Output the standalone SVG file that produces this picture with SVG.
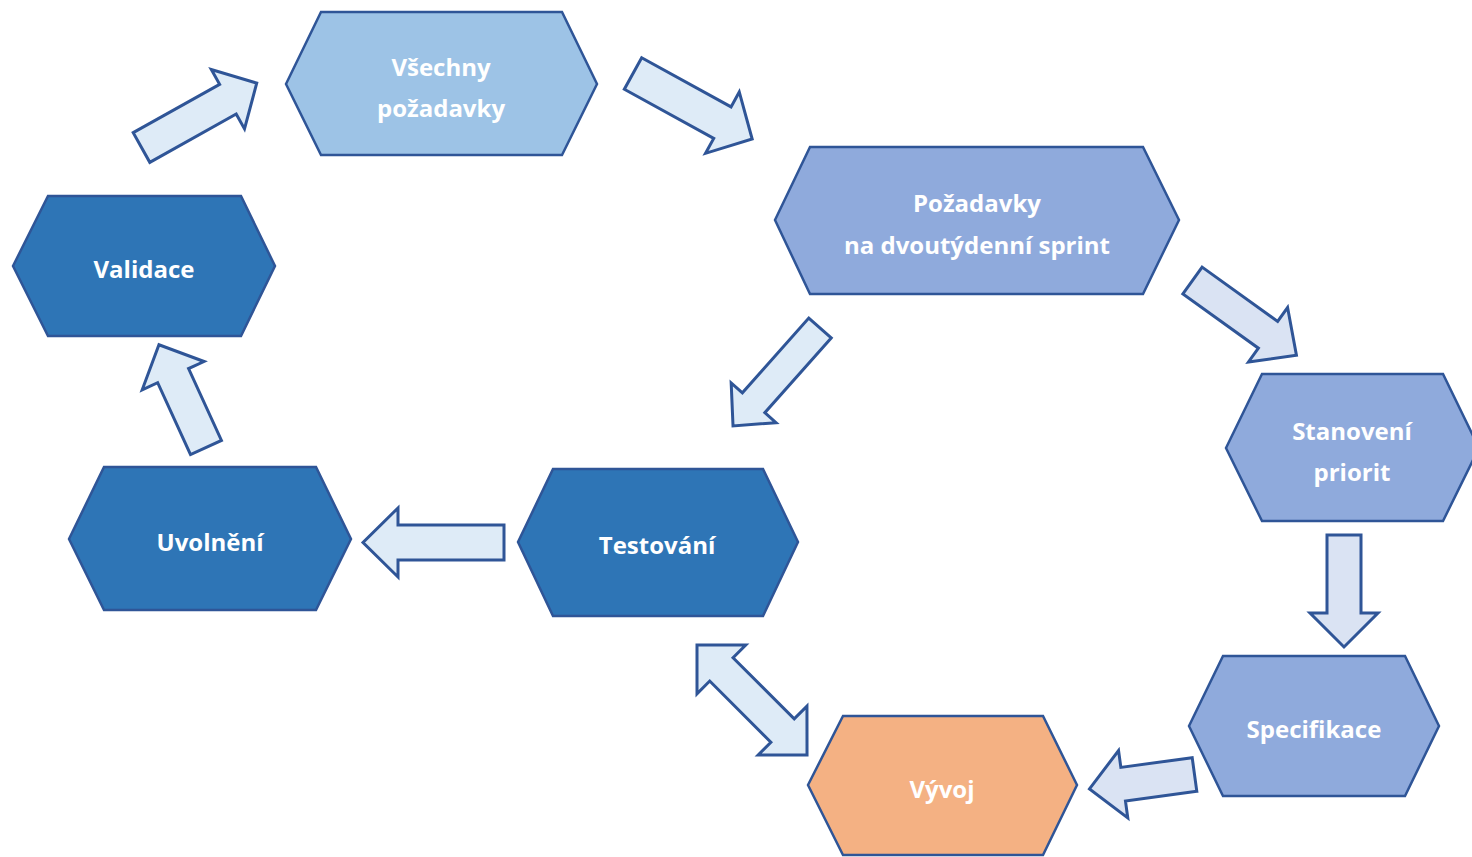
<svg xmlns="http://www.w3.org/2000/svg" width="1472" height="857" viewBox="0 0 1472 857">
  <style>
    .hex { stroke: #2F5597; stroke-width: 2.5; stroke-linejoin: miter; }
    .c1 { fill: #9DC3E6; }
    .c2 { fill: #8FAADC; }
    .c3 { fill: #2E75B6; }
    .c4 { fill: #F4B183; }
    .arr { fill: #DEEBF7; stroke: #2F5597; stroke-width: 3; stroke-linejoin: miter; }
    .arr2 { fill: #DAE3F3; stroke: #2F5597; stroke-width: 3; stroke-linejoin: miter; }
    .lbl { font-family: "Open Sans", "Liberation Sans", sans-serif; font-weight: bold; font-size: 24px; fill: #FFFFFF; text-anchor: middle; }
  </style>
  <rect width="1472" height="857" fill="#FFFFFF"/>

  <!-- block arrows between the stages -->
  <g id="connectors">
    <polygon class="arr" transform="translate(141.5,147.5) rotate(-29.2)" points="0,-17 99,-17 99,-34 132,0 99,34 99,17 0,17"/>
    <polygon class="arr" transform="translate(633,73.5) rotate(28.8)" points="0,-18 102,-18 102,-35 136,0 102,35 102,18 0,18"/>
    <polygon class="arr2" transform="translate(1192.5,280.5) rotate(35.7)" points="0,-16.5 93,-16.5 93,-33.5 128,0 93,33.5 93,16.5 0,16.5"/>
    <polygon class="arr2" transform="translate(1344,535) rotate(90)" points="0,-17 78,-17 78,-34 112,0 78,34 78,17 0,17"/>
    <polygon class="arr2" transform="translate(1194.5,774.5) rotate(172.2)" points="0,-17 72,-17 72,-34 106,0 72,34 72,17 0,17"/>
    <polygon class="arr" transform="translate(820,328) rotate(131.6)" points="0,-15 100,-15 100,-30 131,0 100,30 100,15 0,15"/>
    <polygon class="arr" transform="translate(504,542.5) rotate(180)" points="0,-17.5 106,-17.5 106,-34.5 141,0 106,34.5 106,17.5 0,17.5"/>
    <polygon class="arr" transform="translate(206,447.5) rotate(-114.6)" points="0,-17 79,-17 79,-34 113,0 79,34 79,17 0,17"/>
    <polygon class="arr" transform="translate(697,645) rotate(45)" points="0,0 34.5,-34.5 34.5,-16.5 121,-16.5 121,-34.5 155.6,0 121,34.5 121,16.5 34.5,16.5 34.5,34.5"/>
  </g>

  <g id="vsechny-pozadavky">
    <polygon class="hex c1" points="286,84 321,12 562,12 597,84 562,155 321,155"/>
    <text class="lbl" x="441" y="76">Všechny</text>
    <text class="lbl" x="441" y="117">požadavky</text>
  </g>

  <g id="pozadavky-sprint">
    <polygon class="hex c2" points="775,220 810,147 1143,147 1179,220 1143,294 810,294"/>
    <text class="lbl" x="977" y="212">Požadavky</text>
    <text class="lbl" x="977" y="254">na dvoutýdenní sprint</text>
  </g>

  <g id="stanoveni-priorit">
    <polygon class="hex c2" points="1226,448 1262,374 1443,374 1479,448 1443,521 1262,521"/>
    <text class="lbl" x="1352" y="440">Stanovení</text>
    <text class="lbl" x="1352" y="481">priorit</text>
  </g>

  <g id="specifikace">
    <polygon class="hex c2" points="1189,726 1223,656 1405,656 1439,726 1405,796 1223,796"/>
    <text class="lbl" x="1314" y="738">Specifikace</text>
  </g>

  <g id="vyvoj">
    <polygon class="hex c4" points="808,785 843,716 1043,716 1077,785 1043,855 843,855"/>
    <text class="lbl" x="942" y="798">Vývoj</text>
  </g>

  <g id="testovani">
    <polygon class="hex c3" points="518,542 553,469 763,469 798,542 763,616 553,616"/>
    <text class="lbl" x="657" y="554">Testování</text>
  </g>

  <g id="uvolneni">
    <polygon class="hex c3" points="69,539 104,467 316,467 351,539 316,610 104,610"/>
    <text class="lbl" x="210" y="551">Uvolnění</text>
  </g>

  <g id="validace">
    <polygon class="hex c3" points="13,266 48,196 241,196 275,266 241,336 48,336"/>
    <text class="lbl" x="144" y="278">Validace</text>
  </g>
</svg>
